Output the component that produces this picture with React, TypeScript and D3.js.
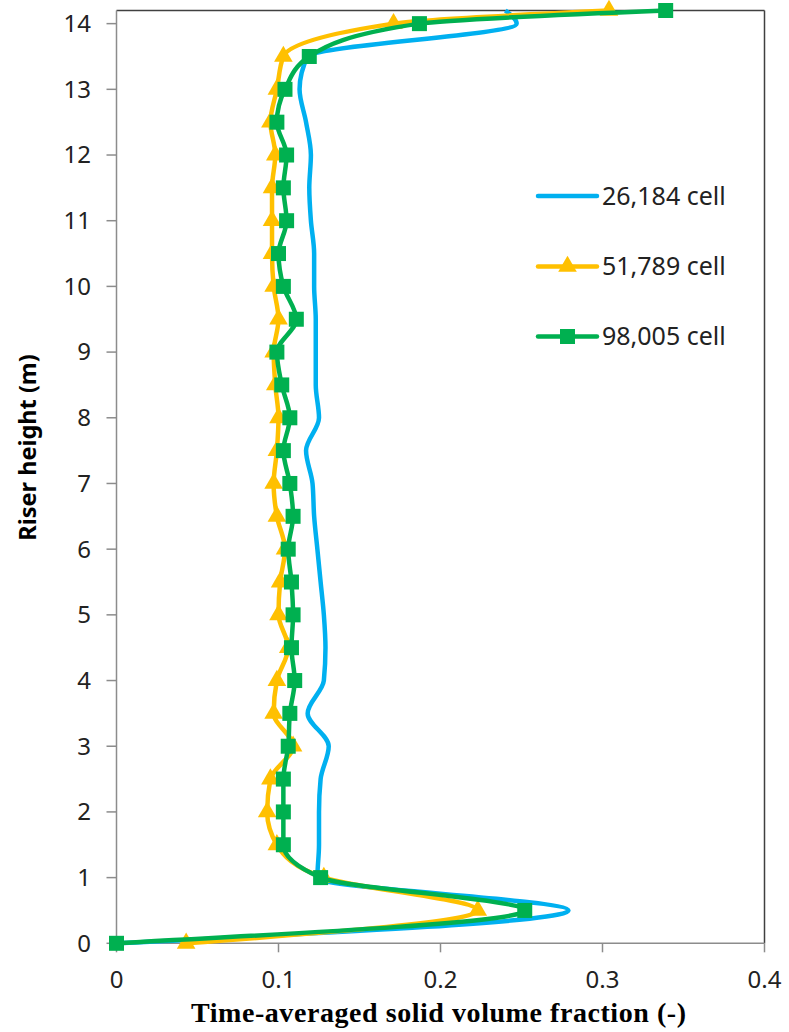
import { FC } from 'react';
import * as d3 from 'd3';

// heights (m) where each series is sampled
const heights = [0, 0.5, 1, 1.5, 2, 2.5, 3, 3.5, 4, 4.5, 5, 5.5, 6, 6.5, 7, 7.5, 8, 8.5, 9, 9.5, 10, 10.5, 11, 11.5, 12, 12.5, 13, 13.5, 14, 14.2];

const cell26184 = [0, 0.279, 0.124, 0.125, 0.125, 0.126, 0.131, 0.118, 0.128, 0.129, 0.128, 0.126, 0.124, 0.122, 0.121, 0.117, 0.125, 0.123, 0.123, 0.123, 0.122, 0.122, 0.12, 0.119, 0.12, 0.117, 0.113, 0.118, 0.247, 0.24];
const cell51789 = [0.043, 0.223, 0.128, 0.099, 0.093, 0.095, 0.109, 0.097, 0.099, 0.106, 0.1, 0.101, 0.104, 0.099, 0.097, 0.099, 0.1, 0.098, 0.097, 0.1, 0.097, 0.096, 0.096, 0.096, 0.098, 0.095, 0.099, 0.103, 0.171, 0.304];
const cell98005 = [0, 0.252, 0.126, 0.103, 0.103, 0.103, 0.106, 0.107, 0.11, 0.108, 0.109, 0.108, 0.106, 0.109, 0.107, 0.103, 0.107, 0.102, 0.099, 0.111, 0.103, 0.1, 0.105, 0.103, 0.105, 0.099, 0.104, 0.119, 0.187, 0.339];

const seriesNames = ['26,184 cell', '51,789 cell', '98,005 cell'];
const xTicks = [0, 0.1, 0.2, 0.3, 0.4];
const yTicks = d3.range(0, 15, 1);

const W = 789;
const H = 1032;
const left = 116.5;
const right = 764.5;
const top = 10.5;
const bottom = 943.3;

const blue = '#00B0F0';
const yellow = '#FFC000';
const green = '#00B050';

const App: FC = () => {
    const x = d3.scaleLinear().domain([0, 0.4]).range([left, right]);
    const y = d3.scaleLinear().domain([0, 14.2]).range([bottom, top]);

    const line = d3.line<[number, number]>()
        .x(d => x(d[0]))
        .y(d => y(d[1]))
        .curve(d3.curveMonotoneY);

    const pts = (vals: number[]) => vals.map((v, i) => [v, heights[i]] as [number, number]);

    const tri = d3.symbol().type(d3.symbolTriangle).size(150)();
    const sq = 15;

    const tickFont = '"Noto Sans", sans-serif';
    const legendRows = [
        { name: seriesNames[0], color: blue, mark: 'none', y: 196 },
        { name: seriesNames[1], color: yellow, mark: 'tri', y: 266.5 },
        { name: seriesNames[2], color: green, mark: 'sq', y: 336.5 },
    ];

    return (
        <svg width={W} height={H} style={{ position: 'absolute', left: 0, top: 0, background: '#fff' }}>
            <rect x={0} y={0} width={W} height={H} fill="#fff" />

            {/* plot border top / right */}
            <line x1={left} x2={right} y1={top} y2={top} stroke="#404040" strokeWidth={1.5} />
            <line x1={right} x2={right} y1={top} y2={bottom} stroke="#404040" strokeWidth={1.5} />

            {/* axes */}
            <line x1={left} x2={left} y1={top} y2={bottom} stroke="#8c8c8c" strokeWidth={1.5} />
            <line x1={left} x2={right} y1={bottom} y2={bottom} stroke="#8c8c8c" strokeWidth={1.5} />

            {yTicks.map(t => (
                <g key={'y' + t}>
                    <line x1={left - 10} x2={left} y1={y(t)} y2={y(t)} stroke="#8c8c8c" strokeWidth={1.5} />
                    <text x={91} y={y(t)} dy="0.35em" textAnchor="end" fontFamily={tickFont} fontSize={24} fill="#222">{t}</text>
                </g>
            ))}
            {xTicks.map(t => (
                <g key={'x' + t}>
                    <line x1={x(t)} x2={x(t)} y1={bottom} y2={bottom + 9} stroke="#8c8c8c" strokeWidth={1.5} />
                    <text x={x(t)} y={988} textAnchor="middle" fontFamily={tickFont} fontSize={24} fill="#222">{t}</text>
                </g>
            ))}

            <text transform={`translate(36,${(353 + 542) / 2}) rotate(-90)`} textAnchor="middle"
                fontFamily={tickFont} fontWeight="bold" fontSize={23.5} fill="#000">Riser height (m)</text>
            <text x={(left + right) / 2 - 2} y={1022} textAnchor="middle" textLength={495} lengthAdjust="spacing"
                fontFamily='"Liberation Serif", "Times New Roman", serif' fontWeight="bold" fontSize={28} fill="#000">
                Time-averaged solid volume fraction (-)
            </text>

            {/* series */}
            <path d={line(pts(cell26184)) ?? ''} fill="none" stroke={blue} strokeWidth={4.5} />
            <path d={line(pts(cell51789)) ?? ''} fill="none" stroke={yellow} strokeWidth={4.5} />
            {pts(cell51789).map((p, i) => (
                <path key={'t' + i} d={tri ?? ''} transform={`translate(${x(p[0])},${y(p[1])})`} fill={yellow} />
            ))}
            <path d={line(pts(cell98005)) ?? ''} fill="none" stroke={green} strokeWidth={4.5} />
            {pts(cell98005).map((p, i) => (
                <rect key={'s' + i} x={x(p[0]) - sq / 2} y={y(p[1]) - sq / 2} width={sq} height={sq} fill={green} />
            ))}

            {/* legend */}
            {legendRows.map(r => (
                <g key={r.name}>
                    <line x1={538} x2={597} y1={r.y} y2={r.y} stroke={r.color} strokeWidth={4.5} strokeLinecap="round" />
                    {r.mark === 'tri' && <path d={tri ?? ''} transform={`translate(567.5,${r.y})`} fill={r.color} />}
                    {r.mark === 'sq' && <rect x={567.5 - sq / 2} y={r.y - sq / 2} width={sq} height={sq} fill={r.color} />}
                    <text x={602} y={r.y} dy="0.35em" fontFamily={tickFont} fontSize={25} fill="#222">{r.name}</text>
                </g>
            ))}
        </svg>
    );
};

export default App;
